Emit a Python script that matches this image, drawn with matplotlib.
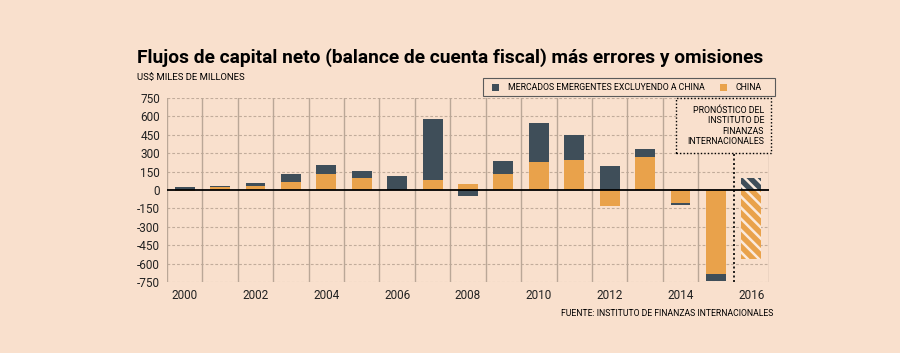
import numpy as np
import matplotlib.pyplot as plt
from matplotlib.patches import Rectangle

years = np.arange(2000, 2017)
china = [-8, 22, 32, 63, 131, 95, 3, 82, 52, 134, 226, 245, -128, 273, -109, -682, -562]
em_ex_china = [22, 8, 23, 65, 71, 60, 110, 500, -46, 103, 317, 200, 194, 60, -12, -63, 95]
year_labels = ["2000", "2002", "2004", "2006", "2008", "2010", "2012", "2014", "2016"]
yticks = [750, 600, 450, 300, 150, 0, -150, -300, -450, -600, -750]

BG = "#f9e0cd"
DARK = "#3f4e59"
ORANGE = "#e9a24b"

plt.rcParams['font.family'] = ['Roboto', 'DejaVu Sans']
plt.rcParams['hatch.linewidth'] = 1.8
plt.rcParams['hatch.color'] = "#fbeadc"

fig = plt.figure(figsize=(9, 3.53), dpi=100, facecolor=BG)
ax = fig.add_axes([167/900, 1-282/353, (769-167)/900, (282-98)/353])
ax.set_facecolor(BG)

china = np.array(china)
em = np.array(em_ex_china)
# dark part sits on the orange one when same sign, otherwise starts at zero
base = np.where(np.sign(em) == np.sign(china), china, 0)

hist = years < 2016
w = 0.56
ax.bar(years[hist], china[hist], w, color=ORANGE, zorder=3)
ax.bar(years[hist], em[hist], w, bottom=base[hist], color=DARK, zorder=3)
ax.bar(years[~hist], china[~hist], w, color=ORANGE, hatch='\\\\\\', edgecolor="#fbeadc", linewidth=0, zorder=3)
ax.bar(years[~hist], em[~hist], w, bottom=base[~hist], color=DARK, hatch='\\\\\\', edgecolor="#fbeadc", linewidth=0, zorder=3)

ax.set_xlim(1999.5, 2016.5)
ax.set_ylim(-750, 750)
for v in yticks:
    if v != 0:
        ax.axhline(v, color="#c2ac9b", lw=0.8, ls=(0, (2.5, 1.8)), zorder=1)
for x in np.arange(1999.5, 2016.6, 1):
    if x == 2015.5:
        continue
    ax.axvline(x, color="#baa797", lw=1.0, zorder=1)
ax.axhline(0, color="black", lw=1.3, zorder=4)
ax.plot([2015.5, 2015.5], [-750, 485], color="black", lw=1.2, ls=(0, (1.2, 1.5)), zorder=4)

for s in ax.spines.values():
    s.set_visible(False)
ax.set_yticks(yticks)
ax.set_yticklabels([str(v) for v in yticks], fontsize=8.5, color="#222222")
ax.set_xticks(range(2000, 2017, 2))
ax.set_xticklabels(year_labels, fontsize=8.5, color="#222222")
ax.tick_params(length=0, pad=5)

fig.text(137/900, 1-58/353, "Flujos de capital neto (balance de cuenta fiscal) más errores y omisiones",
         fontsize=13.8, fontweight="bold", va="center", ha="left")
fig.text(137/900, 1-78/353, "US$ MILES DE MILLONES", fontsize=6.8, va="center", ha="left")

# legend box
fig.patches.append(Rectangle((483/900, 1-96/353), 292/900, 18/353, transform=fig.transFigure,
                             facecolor=BG, edgecolor="#5a5a5a", lw=0.8))
fig.patches.append(Rectangle((492/900, 1-91/353), 7/900, 7/353, transform=fig.transFigure,
                             facecolor=DARK, edgecolor="none"))
fig.text(508/900, 1-87.5/353, "MERCADOS EMERGENTES EXCLUYENDO A CHINA", fontsize=6.3, va="center")
fig.patches.append(Rectangle((720/900, 1-91/353), 7/900, 7/353, transform=fig.transFigure,
                             facecolor=ORANGE, edgecolor="none"))
fig.text(735/900, 1-87.5/353, "CHINA", fontsize=6.3, va="center")

# forecast note box
fig.patches.append(Rectangle((676/900, 1-153/353), 95/900, 55/353, transform=fig.transFigure,
                             facecolor=BG, edgecolor="black", lw=1.0, ls=(0, (1, 1.5)), zorder=5))
fig.text(764/900, 1-126/353, "PRONÓSTICO DEL\nINSTITUTO DE\nFINANZAS\nINTERNACIONALES",
         fontsize=6.3, ha="right", va="center", linespacing=1.2, zorder=6)

fig.text(773/900, 1-313/353, "FUENTE: INSTITUTO DE FINANZAS INTERNACIONALES", fontsize=6.2,
         ha="right", va="center")

fig.savefig("out.png", dpi=100, facecolor=BG)
